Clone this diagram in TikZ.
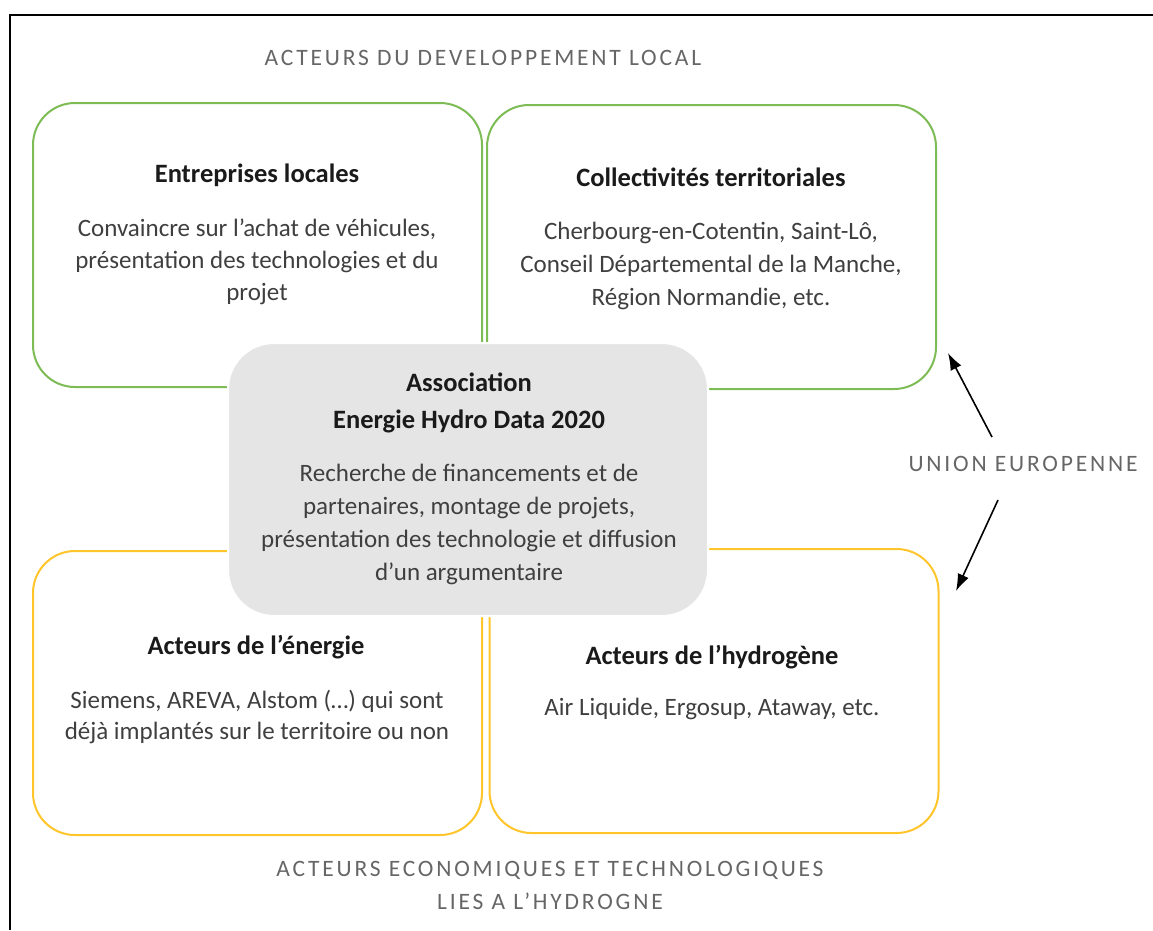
\documentclass[tikz,border=0pt]{standalone}
\usepackage{fontspec}
\setmainfont{Carlito}
\usetikzlibrary{arrows.meta}
\definecolor{grn}{HTML}{7DBB55}
\definecolor{ylw}{HTML}{FFC52A}
\definecolor{cfill}{HTML}{E5E5E5}
\definecolor{capgray}{HTML}{666666}
\definecolor{bodygray}{HTML}{3F3F3F}
\definecolor{ttl}{HTML}{1A1A1A}
\tikzset{
  greenbox/.style={draw=grn, line width=2pt, rounded corners=42pt, minimum width=449pt, minimum height=284pt, inner sep=0pt},
  yellowbox/.style={draw=ylw, line width=2pt, rounded corners=42pt, minimum width=449pt, minimum height=284pt, inner sep=0pt},
  centerbox/.style={fill=cfill, draw=white, line width=2pt, rounded corners=46pt, minimum width=480pt, minimum height=273pt, inner sep=0pt},
  boxtitle/.style={font=\fontsize{26.5}{37}\selectfont\bfseries, text=ttl, align=center, inner sep=0pt},
  boxbody/.style={font=\fontsize{25}{32.5}\selectfont, text=bodygray, align=center, inner sep=0pt},
  caplabel/.style={font=\fontsize{23.5}{33}\selectfont\addfontfeature{LetterSpace=12}, text=capgray, align=center, inner sep=0pt},
  euarrow/.style={line width=1.6pt, -{Latex[length=17pt,width=12pt]}}
}
\begin{document}
\begin{tikzpicture}[x=1pt,y=-1pt]
\useasboundingbox (0,0) rectangle (1153,930);
% outer frame (top and left)
\draw[line width=2.5pt] (10,930) -- (10,15) -- (1153,15);
% boxes
\node[greenbox] (b1) at (257.5,245) {};
\node[greenbox] (b2) at (711.5,247) {};
\node[yellowbox] (b3) at (257.5,693) {};
\node[yellowbox] (b4) at (714,691) {};
\node[centerbox] (bc) at (468,479.5) {};
% texts (anchor=base is the baseline of the last line)
\node[boxtitle, anchor=base] (t1) at (257,182) {Entreprises locales};
\node[boxbody, anchor=base, font=\fontsize{25}{32}\selectfont] (d1) at (257,300) {Convaincre sur l’achat de véhicules,\\présentation des technologies et du\\projet};
\node[boxtitle, anchor=base] (t2) at (711,186) {Collectivités territoriales};
\node[boxbody, anchor=base, font=\fontsize{25}{33}\selectfont] (d2) at (711,305) {Cherbourg-en-Cotentin, Saint-Lô,\\Conseil Départemental de la Manche,\\Région Normandie, etc.};
\node[boxtitle, anchor=base] (tc) at (469,428) {Association\\Energie Hydro Data 2020};
\node[boxbody, anchor=base, font=\fontsize{25}{33}\selectfont] (dc) at (469,580) {Recherche de financements et de\\partenaires, montage de projets,\\présentation des technologie et diffusion\\d’un argumentaire};
\node[boxtitle, anchor=base] (t3) at (256,654) {Acteurs de l’énergie};
\node[boxbody, anchor=base, font=\fontsize{25}{31}\selectfont] (d3) at (257,739) {Siemens, AREVA, Alstom (…) qui sont\\déjà implantés sur le territoire ou non};
\node[boxtitle, anchor=base] (t4) at (712,664) {Acteurs de l’hydrogène};
\node[boxbody, anchor=base] (d4) at (712,715) {Air Liquide, Ergosup, Ataway, etc.};
% capital labels
\node[caplabel, anchor=base] (top) at (483,65) {ACTEURS DU DEVELOPPEMENT LOCAL};
\node[caplabel, anchor=base] (bot) at (550,909) {ACTEURS ECONOMIQUES ET TECHNOLOGIQUES\\LIES A L’HYDROGNE};
\node[caplabel] (ue) at (1023,464) {UNION EUROPENNE};
% arrows
\coordinate (a1s) at (992,437);
\coordinate (a1e) at (948,353);
\coordinate (a2s) at (998,500);
\coordinate (a2e) at (956,591);
\draw[euarrow] (a1s) -- (a1e);
\draw[euarrow] (a2s) -- (a2e);
\end{tikzpicture}
\end{document}
